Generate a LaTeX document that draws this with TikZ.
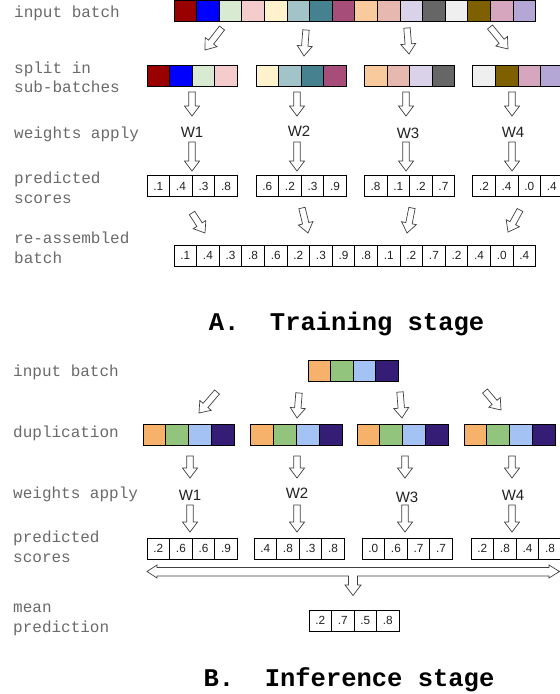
\documentclass[tikz,border=0pt]{standalone}
\usepackage{fontspec}
\setmainfont{Liberation Sans}
\newfontfamily\monofont{Liberation Mono}
\usetikzlibrary{calc}
\frenchspacing

\definecolor{labgray}{HTML}{6A6A6A}
\definecolor{txt}{HTML}{222222}
\definecolor{cA1}{HTML}{990000}
\definecolor{cA2}{HTML}{0000FF}
\definecolor{cA3}{HTML}{D9EAD3}
\definecolor{cA4}{HTML}{F4CCCC}
\definecolor{cA5}{HTML}{FFF2CC}
\definecolor{cA6}{HTML}{A2C4C9}
\definecolor{cA7}{HTML}{45818E}
\definecolor{cA8}{HTML}{A64D79}
\definecolor{cA9}{HTML}{F9CB9C}
\definecolor{cA10}{HTML}{E6B8AF}
\definecolor{cA11}{HTML}{D9D2E9}
\definecolor{cA12}{HTML}{666666}
\definecolor{cA13}{HTML}{EFEFEF}
\definecolor{cA14}{HTML}{7F6000}
\definecolor{cA15}{HTML}{D5A6BD}
\definecolor{cA16}{HTML}{B4A7D6}
\definecolor{cB1}{HTML}{F6B26B}
\definecolor{cB2}{HTML}{93C47D}
\definecolor{cB3}{HTML}{A4C2F4}
\definecolor{cB4}{HTML}{351C75}

\tikzset{
  cell/.style={draw=black, line width=0.75pt, minimum height=21pt, inner sep=0pt,
    outer sep=0pt, anchor=north west, font=\fontsize{11.8}{12}\selectfont, text=txt},
  lab/.style={anchor=base west, inner sep=0pt, font=\monofont\fontsize{16}{20}\selectfont, text=labgray},
  stagetitle/.style={anchor=base, inner sep=0pt, font=\monofont\bfseries\fontsize{25.5}{30}\selectfont, text=black},
  wlab/.style={inner sep=0pt, font=\fontsize{15}{18}\selectfont, text=txt},
  blockarrow/.style={draw=black!75, fill=white, line width=0.7pt, line join=miter}
}

% row of coloured cells: name, x0, y, width, colour list
\newcommand\colrow[5]{%
  \foreach \t [count=\k from 0] in {#5} {%
    \node[cell, minimum width=#4pt, fill=\t] (#1\k) at ({#2+#4*\k}, #3) {};}}
% row of score cells: name, x0, y, width, value list
\newcommand\scorerow[5]{%
  \foreach \t [count=\k from 0] in {#5} {%
    \node[cell, minimum width=#4pt] (#1\k) at ({#2+#4*\k}, #3) {\t};}}
% block arrow from coordinate #1 to coordinate #2
\newcommand\barrow[2]{%
  \coordinate (bm) at ($(#2)!10pt!(#1)$);
  \draw[blockarrow] ($(#1)!3.2pt!90:(#2)$) -- ($(bm)!3.2pt!90:(#2)$) -- ($(bm)!7.5pt!90:(#2)$)
    -- (#2) -- ($(bm)!7.5pt!-90:(#2)$) -- ($(bm)!3.2pt!-90:(#2)$) -- ($(#1)!3.2pt!-90:(#2)$) -- cycle;}

\begin{document}
\begin{tikzpicture}[x=1pt,y=-1pt]
\useasboundingbox (0,0) rectangle (560,694);
\clip (0,0) rectangle (560,694);
\fill[white] (0,0) rectangle (560,694);

% ---------------- Part A ----------------
\node[lab] (la1) at (14,17) {input batch};
\node[lab] (la2) at (14,73) {split in};
\node[lab] (la3) at (14,92) {sub-batches};
\node[lab] (la4) at (14,138) {weights apply};
\node[lab] (la5) at (14,183) {predicted};
\node[lab] (la6) at (14,203) {scores};
\node[lab] (la7) at (14,243) {re-assembled};
\node[lab] (la8) at (14,263) {batch};

\colrow{ina}{174}{0.5}{22.6}{cA1,cA2,cA3,cA4,cA5,cA6,cA7,cA8,cA9,cA10,cA11,cA12,cA13,cA14,cA15,cA16}
\colrow{suba}{147}{65.7}{22.6}{cA1,cA2,cA3,cA4}
\colrow{subb}{256}{65.7}{22.6}{cA5,cA6,cA7,cA8}
\colrow{subc}{364.3}{65.7}{22.6}{cA9,cA10,cA11,cA12}
\colrow{subd}{472.7}{65.7}{22.6}{cA13,cA14,cA15,cA16}

\scorerow{sca}{147}{175.7}{22.6}{.1,.4,.3,.8}
\scorerow{scb}{256}{175.7}{22.6}{.6,.2,.3,.9}
\scorerow{scc}{364.3}{175.7}{22.6}{.8,.1,.2,.7}
\scorerow{scd}{472.7}{175.7}{22.6}{.2,.4,.0,.4}

\scorerow{rea}{174}{245}{22.6}{.1,.4,.3,.8,.6,.2,.3,.9,.8,.1,.2,.7,.2,.4,.0,.4}

\node[wlab] (wa1) at (192,132) {W1};
\node[wlab] (wa2) at (299,131) {W2};
\node[wlab] (wa3) at (408,133) {W3};
\node[wlab] (wa4) at (513,132) {W4};

\coordinate (a1s) at (222,28);  \coordinate (a1e) at (205,50);
\coordinate (a2s) at (306,30);  \coordinate (a2e) at (304,56);
\coordinate (a3s) at (407,28);  \coordinate (a3e) at (409,54);
\coordinate (a4s) at (490,27);  \coordinate (a4e) at (508,49);
\barrow{a1s}{a1e} \barrow{a2s}{a2e} \barrow{a3s}{a3e} \barrow{a4s}{a4e}

\foreach \x [count=\n] in {192,297,406,512} {
  \coordinate (p\n s) at (\x,92);  \coordinate (p\n e) at (\x,116);
  \barrow{p\n s}{p\n e}
  \coordinate (q\n s) at (\x,142); \coordinate (q\n e) at (\x,171);
  \barrow{q\n s}{q\n e}
}

\coordinate (b1s) at (192,213); \coordinate (b1e) at (205,233);
\coordinate (b2s) at (302,208); \coordinate (b2e) at (308,233);
\coordinate (b3s) at (412,208); \coordinate (b3e) at (407,233);
\coordinate (b4s) at (520,210); \coordinate (b4e) at (508,232);
\barrow{b1s}{b1e} \barrow{b2s}{b2e} \barrow{b3s}{b3e} \barrow{b4s}{b4e}

\node[stagetitle] (ta) at (346.5,330) {A.\ \ Training stage};

% ---------------- Part B ----------------
\node[lab] (lb1) at (13,376) {input batch};
\node[lab] (lb2) at (13,437) {duplication};
\node[lab] (lb3) at (13,498) {weights apply};
\node[lab] (lb4) at (13,542) {predicted};
\node[lab] (lb5) at (13,562) {scores};
\node[lab] (lb6) at (13,612) {mean};
\node[lab] (lb7) at (13,632) {prediction};

\colrow{inb}{308}{360}{22.5}{cB1,cB2,cB3,cB4}
\colrow{dupa}{143}{424}{22.8}{cB1,cB2,cB3,cB4}
\colrow{dupb}{250.7}{424}{22.8}{cB1,cB2,cB3,cB4}
\colrow{dupc}{357}{424}{22.8}{cB1,cB2,cB3,cB4}
\colrow{dupd}{464}{424}{22.8}{cB1,cB2,cB3,cB4}

\scorerow{psa}{147}{538}{22.6}{.2,.6,.6,.9}
\scorerow{psb}{254}{538}{22.6}{.4,.8,.3,.8}
\scorerow{psc}{362}{538}{22.6}{.0,.6,.7,.7}
\scorerow{psd}{471}{538}{22.6}{.2,.8,.4,.8}

\scorerow{mean}{309}{610}{22.5}{.2,.7,.5,.8}

\node[wlab] (wb1) at (190,495) {W1};
\node[wlab] (wb2) at (297,493) {W2};
\node[wlab] (wb3) at (407,497) {W3};
\node[wlab] (wb4) at (513,495) {W4};

\coordinate (c1s) at (217,392); \coordinate (c1e) at (199,413);
\coordinate (c2s) at (299,393); \coordinate (c2e) at (297,418);
\coordinate (c3s) at (400,392); \coordinate (c3e) at (402,418);
\coordinate (c4s) at (485,391); \coordinate (c4e) at (501,410);
\barrow{c1s}{c1e} \barrow{c2s}{c2e} \barrow{c3s}{c3e} \barrow{c4s}{c4e}

\foreach \x [count=\n] in {190,297,405,512} {
  \coordinate (r\n s) at (\x,456); \coordinate (r\n e) at (\x,478);
  \barrow{r\n s}{r\n e}
  \coordinate (t\n s) at (\x,505); \coordinate (t\n e) at (\x,532);
  \barrow{t\n s}{t\n e}
}

% double-headed gathering arrow with branch to the mean prediction
\draw[blockarrow] (147,571.5) -- (157,565) -- (157,567.5) -- (549,567.5) -- (549,565)
  -- (559.5,571.5) -- (549,578) -- (549,576) -- (357.5,576) -- (357.5,585) -- (361,585)
  -- (353,595.5) -- (345,585) -- (348.5,585) -- (348.5,576) -- (157,576) -- (157,578) -- cycle;

\node[stagetitle] (tb) at (349,686) {B.\ \ Inference stage};
\end{tikzpicture}
\end{document}
